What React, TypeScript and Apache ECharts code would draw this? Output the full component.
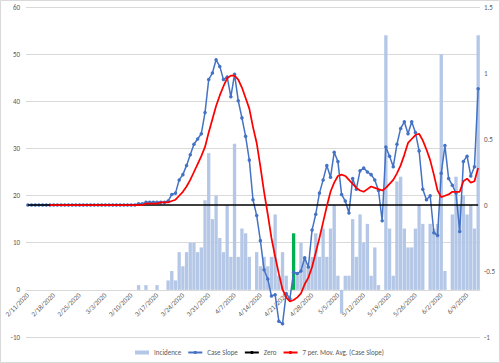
import React, { useEffect, useRef } from "react";
import * as echarts from "echarts";

const categories: string[] = [
  "2/11/2020","2/12/2020","2/13/2020","2/14/2020","2/15/2020","2/16/2020","2/17/2020","2/18/2020","2/19/2020","2/20/2020",
  "2/21/2020","2/22/2020","2/23/2020","2/24/2020","2/25/2020","2/26/2020","2/27/2020","2/28/2020","2/29/2020",
  "3/1/2020","3/2/2020","3/3/2020","3/4/2020","3/5/2020","3/6/2020","3/7/2020","3/8/2020","3/9/2020","3/10/2020",
  "3/11/2020","3/12/2020","3/13/2020","3/14/2020","3/15/2020","3/16/2020","3/17/2020","3/18/2020","3/19/2020","3/20/2020",
  "3/21/2020","3/22/2020","3/23/2020","3/24/2020","3/25/2020","3/26/2020","3/27/2020","3/28/2020","3/29/2020","3/30/2020","3/31/2020",
  "4/1/2020","4/2/2020","4/3/2020","4/4/2020","4/5/2020","4/6/2020","4/7/2020","4/8/2020","4/9/2020","4/10/2020",
  "4/11/2020","4/12/2020","4/13/2020","4/14/2020","4/15/2020","4/16/2020","4/17/2020","4/18/2020","4/19/2020","4/20/2020",
  "4/21/2020","4/22/2020","4/23/2020","4/24/2020","4/25/2020","4/26/2020","4/27/2020","4/28/2020","4/29/2020","4/30/2020",
  "5/1/2020","5/2/2020","5/3/2020","5/4/2020","5/5/2020","5/6/2020","5/7/2020","5/8/2020","5/9/2020","5/10/2020",
  "5/11/2020","5/12/2020","5/13/2020","5/14/2020","5/15/2020","5/16/2020","5/17/2020","5/18/2020","5/19/2020","5/20/2020",
  "5/21/2020","5/22/2020","5/23/2020","5/24/2020","5/25/2020","5/26/2020","5/27/2020","5/28/2020","5/29/2020","5/30/2020","5/31/2020",
  "6/1/2020","6/2/2020","6/3/2020","6/4/2020","6/5/2020","6/6/2020","6/7/2020","6/8/2020","6/9/2020","6/10/2020","6/11/2020","6/12/2020",
];

// Incidence (left axis)
const incidence: number[] = [
  0,0,0,0,0,0,0,0,0,0,
  0,0,0,0,0,0,0,0,0,0,
  0,0,0,0,0,0,0,0,0,0,
  1,0,1,0,0,1,0,0,2,4,
  2,8,5,8,10,10,8,9,19,29,
  15,20,11,8,18,7,31,7,13,12,
  7,0,8,5,7,5,7,16,3,8,
  3,0,12,3,10,7,5,7,12,7,
  13,7,13,18,3,-5,3,3,15,7,
  16,10,14,3,9,1,0,54,13,3,
  23,24,13,9,9,13,18,14,0,14,
  13,14,50,4,0,16,24,18,20,16,
  18,13,54,
];
const highlightDate = "4/23/2020";

// Case Slope (right axis)
const caseSlope: number[] = [
  0,0,0,0,0,0,0,0,0,0,
  0,0,0,0,0,0,0,0,0,0,
  0,0,0,0,0,0,0,0,0,0,
  0.01,0.01,0.02,0.02,0.02,0.02,0.02,0.02,0.03,0.08,
  0.09,0.19,0.23,0.30,0.38,0.46,0.50,0.54,0.70,0.95,
  1.00,1.10,1.05,0.95,0.97,0.82,0.99,0.79,0.66,0.52,
  0.34,0.04,-0.08,-0.27,-0.49,-0.56,-0.69,-0.68,-0.88,-0.90,
  -0.67,-0.71,-0.51,-0.52,-0.50,-0.40,-0.47,-0.19,-0.07,0.09,
  0.19,0.30,0.21,0.40,0.33,0.08,0.03,-0.06,0.20,0.12,
  0.26,0.28,0.25,0.23,0.19,0.11,-0.12,0.44,0.37,0.29,
  0.46,0.58,0.63,0.54,0.63,0.55,0.41,0.12,0.04,0.07,
  -0.21,-0.23,0.24,0.45,0.20,0.15,0.09,-0.20,0.33,0.37,
  0.22,0.29,0.88,
];

// Zero reference line (right axis)
const zeroLine: number[] = categories.map(() => 0);

// 7 per. Mov. Avg. (Case Slope), right axis
const movingAvg: (number | null)[] = [
  null,null,null,null,null,null,0,0,0,0,
  0,0,0,0,0,0,0,0,0,0,
  0,0,0,0,0,0,0,0,0,0,
  0,0,0.01,0.01,0.01,0.01,0.02,0.02,0.02,0.03,
  0.04,0.07,0.10,0.14,0.19,0.25,0.31,0.37,0.44,0.55,
  0.65,0.75,0.83,0.90,0.96,0.98,0.98,0.95,0.89,0.81,
  0.73,0.59,0.47,0.29,0.10,-0.07,-0.25,-0.39,-0.52,-0.64,
  -0.70,-0.73,-0.72,-0.70,-0.67,-0.60,-0.55,-0.47,-0.36,-0.25,
  -0.13,-0.01,0.10,0.17,0.22,0.23,0.22,0.19,0.16,0.13,
  0.11,0.10,0.12,0.14,0.13,0.12,0.11,0.13,0.16,0.19,
  0.24,0.30,0.38,0.47,0.50,0.53,0.54,0.49,0.42,0.34,
  0.23,0.11,0.06,0.07,0.08,0.10,0.10,0.10,0.18,0.20,
  0.17,0.18,0.28,
];

const FONT = "Carlito, 'Liberation Sans', Arial, sans-serif";
const GRAY = "#595959";

export default function App() {
  const ref = useRef<HTMLDivElement>(null);
  useEffect(() => {
    document.body.style.margin = "0";
    if (!ref.current) return;
    const chart = echarts.init(ref.current, null, { renderer: "svg" });
    const barData = incidence.map((v, i) =>
      categories[i] === highlightDate ? { value: v, itemStyle: { color: "#00B050" } } : v
    );
    chart.setOption({
      animation: false,
      backgroundColor: "#ffffff",
      textStyle: { fontFamily: FONT },
      grid: { left: 26, right: 20, top: 7, bottom: 26, containLabel: false },
      graphic: [
        {
          type: "rect",
          shape: { x: 0.5, y: 0.5, width: 499, height: 362 },
          style: { fill: "none", stroke: "#d9d9d9", lineWidth: 1 },
          silent: true,
        },
      ],
      legend: {
        top: 344,
        left: 130,
        itemWidth: 14,
        itemHeight: 4,
        itemGap: 6,
        textStyle: { fontSize: 7, color: GRAY, fontFamily: FONT },
        data: [
          { name: "Incidence", icon: "rect" },
          { name: "Case Slope" },
          { name: "Zero" },
          { name: "7 per. Mov. Avg. (Case Slope)" },
        ],
      },
      xAxis: {
        type: "category",
        position: "bottom",
        offset: -47,
        data: categories,
        boundaryGap: true,
        axisLine: { onZero: false, lineStyle: { color: "#d9d9d9" } },
        axisTick: { show: false },
        axisLabel: { interval: 6, rotate: 45, fontSize: 7, color: GRAY, margin: 4, fontFamily: FONT },
        splitLine: { show: false },
      },
      yAxis: [
        {
          type: "value",
          min: -10,
          max: 60,
          interval: 10,
          axisLine: { show: false },
          axisTick: { show: false },
          axisLabel: { fontSize: 7, color: GRAY, margin: 6, fontFamily: FONT },
          splitLine: { lineStyle: { color: "#d9d9d9", width: 1 } },
        },
        {
          type: "value",
          min: -1,
          max: 1.5,
          interval: 0.5,
          axisLine: { show: false },
          axisTick: { show: false },
          axisLabel: { fontSize: 7, color: GRAY, margin: 4, fontFamily: FONT },
          splitLine: { show: false },
        },
      ],
      series: [
        {
          name: "Incidence",
          type: "bar",
          yAxisIndex: 0,
          data: barData,
          barCategoryGap: "10%",
          itemStyle: { color: "#B4C7E7" },
          z: 1,
        },
        {
          name: "Case Slope",
          type: "line",
          yAxisIndex: 1,
          data: caseSlope,
          symbol: "circle",
          symbolSize: 3.5,
          showSymbol: true,
          showAllSymbol: true,
          lineStyle: { color: "#4472C4", width: 1.5 },
          itemStyle: { color: "#4472C4" },
          z: 2,
        },
        {
          name: "Zero",
          type: "line",
          yAxisIndex: 1,
          data: zeroLine,
          symbol: "none",
          lineStyle: { color: "#000000", width: 1.5 },
          itemStyle: { color: "#000000" },
          z: 3,
        },
        {
          name: "7 per. Mov. Avg. (Case Slope)",
          type: "line",
          yAxisIndex: 1,
          data: movingAvg,
          symbol: "none",
          connectNulls: false,
          lineStyle: { color: "#FF0000", width: 1.75 },
          itemStyle: { color: "#FF0000" },
          z: 4,
        },
      ],
    });
    return () => chart.dispose();
  }, []);
  return <div ref={ref} style={{ width: 500, height: 363 }} />;
}
